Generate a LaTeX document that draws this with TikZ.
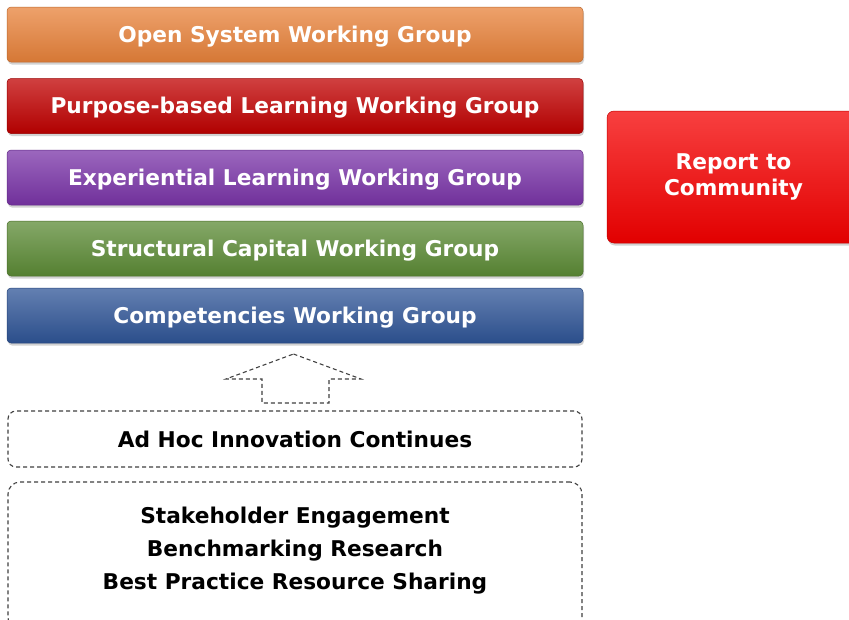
\documentclass[tikz,border=0pt]{standalone}
\usepackage{fontspec}
\setmainfont{DejaVu Sans}
\usetikzlibrary{shadows}
\definecolor{wgorange}{HTML}{E8823A}
\definecolor{wgred}{HTML}{C00000}
\definecolor{wgpurple}{HTML}{7A34A8}
\definecolor{wggreen}{HTML}{5C8B35}
\definecolor{wgblue}{HTML}{2F5597}
\definecolor{reportred}{HTML}{F50000}
\definecolor{dashgray}{HTML}{404040}
\tikzset{
  bigfont/.style={font=\fontsize{21.7}{26}\selectfont\bfseries},
  wgbar/.style={rounded corners=4pt,draw=#1!80!black,line width=.5pt,
    top color=#1!75!white,middle color=#1,bottom color=#1!92!black,
    minimum width=576pt,minimum height=55pt,text=white,bigfont,
    drop shadow={opacity=.35,shadow xshift=1pt,shadow yshift=-2.5pt}},
  reportbox/.style={wgbar=reportred,minimum width=253pt,minimum height=132pt,
    rounded corners=7pt,align=center},
  dashbox/.style={draw=dashgray,line width=1.1pt,dash pattern=on 4pt off 3pt,
    minimum width=574pt,rounded corners=#1},
}

\begin{document}
\begin{tikzpicture}[x=1pt,y=-1pt]
\useasboundingbox[fill=white] (0,0) rectangle (849,619);
\node[wgbar=wgorange,text depth=.12em] (open) at (295,34.5) {Open System Working Group};
\node[wgbar=wgred,text depth=.12em] (purpose) at (295,106) {Purpose-based Learning Working Group};
\node[wgbar=wgpurple,text depth=.12em] (experiential) at (295,177.5) {Experiential Learning Working Group};
\node[wgbar=wggreen,text depth=.12em] (structural) at (295,248.5) {Structural Capital Working Group};
\node[wgbar=wgblue,text depth=.12em] (competencies) at (295,315.5) {Competencies Working Group};
\node[reportbox] (report) at (733.5,177) {Report to\\Community};
% dashed block arrow
\coordinate (tip) at (293.5,354);
\coordinate (wingL) at (226,379);
\coordinate (wingR) at (361,379);
\coordinate (shaftL) at (262,379);
\coordinate (shaftR) at (329,379);
\draw[draw=dashgray,line width=1.1pt,dash pattern=on 4pt off 3pt]
  (tip) -- (wingR) -- (shaftR) -- (shaftR |- 0,403) -- (shaftL |- 0,403)
  -- (shaftL) -- (wingL) -- cycle;
\node[dashbox=8pt,minimum height=56pt,text=black,bigfont] (adhoc) at (295,439)
  {Ad Hoc Innovation Continues};
\node[dashbox=12pt,minimum height=148pt] (basis) at (295,556) {};
\node[align=center,text=black,
  font=\fontsize{21.7}{33}\selectfont\bfseries] (basistext) at (295,550.5)
  {Stakeholder Engagement\\Benchmarking Research\\Best Practice Resource Sharing};
\end{tikzpicture}
\end{document}
